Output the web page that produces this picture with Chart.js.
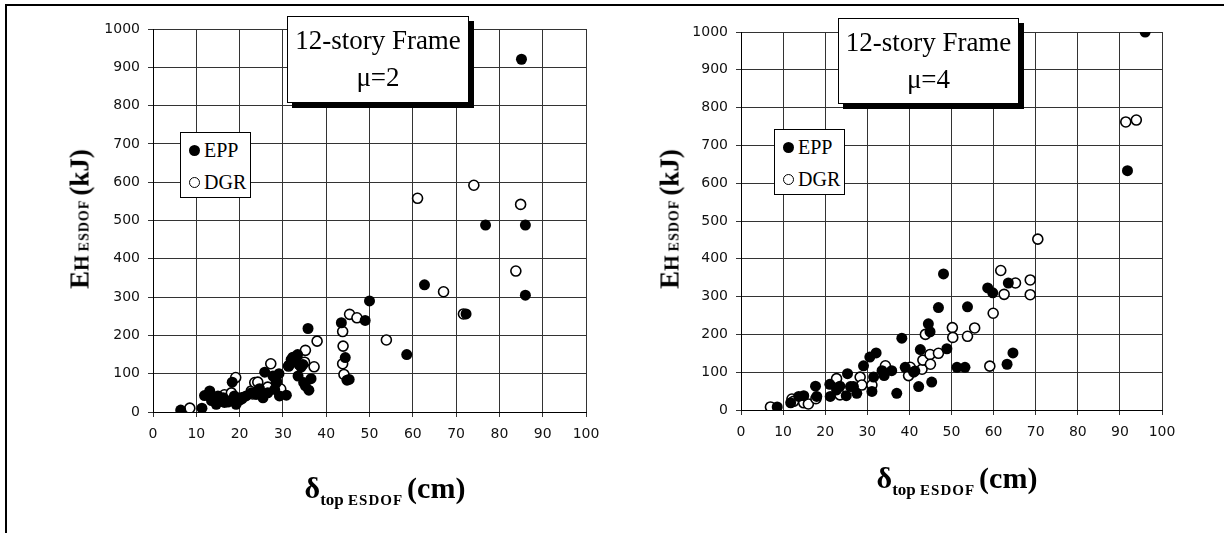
<!DOCTYPE html>
<html lang="en">
<head>
    <meta charset="UTF-8">
    <title>12-story Frame: EH ESDOF vs delta top ESDOF</title>
    <script src="https://cdn.jsdelivr.net/npm/chart.js"></script>
    <style>
        body { margin: 0; background: #fff; }
        #page { position: relative; width: 1224px; height: 533px; overflow: hidden; }
        #frame { position: absolute; left: 5px; top: 4px; width: 1230px; height: 540px;
                 border-top: 2px solid #000; border-left: 2px solid #000; }
        .panel { position: absolute; top: 0; width: 612px; height: 533px; }
        .panel canvas { position: absolute; left: 0; top: 0; }
        .titlebox { position: absolute; background: #fff; border: 1px solid #000;
                    box-shadow: 5px 5px 0 #000; text-align: center;
                    font-family: "Liberation Serif", serif; font-size: 27px; line-height: 37px;
                    color: #000; padding-top: 5px; box-sizing: border-box; white-space: nowrap; }
        .legend { position: absolute; background: #fff; border: 1px solid #000;
                  font-family: "Liberation Serif", serif; font-size: 20px; color: #000; box-sizing: border-box; }
        .legend div { position: absolute; left: 8px; white-space: nowrap; }
        .legend i { display: inline-block; width: 11px; height: 11px; border-radius: 50%;
                    box-sizing: border-box; margin-right: 4px; vertical-align: 1px; }
        .legend i.epp { background: #000; }
        .legend i.dgr { background: #fff; border: 1.6px solid #000; }
        .ytitle, .xtitle { position: absolute; white-space: nowrap; font-family: "Liberation Serif", serif;
                           font-weight: bold; color: #000; transform-origin: center center; }
        .ytitle { transform: translate(-50%, -50%) rotate(-90deg); }
        .xtitle { transform: translate(-50%, -50%); }
        .big { font-size: 27px; }
        .xtitle .big { font-size: 30px; }
        .h { font-size: 20px; }
        .sc { font-size: 14px; letter-spacing: 1px; }
        .sub { font-size: 17px; position: relative; top: 7px; }
        .sub .sc { font-size: 15px; }
    </style>
</head>
<body>
<div id="page">
    <div id="frame"></div>

    <div class="panel" style="left:0">
        <canvas id="chartMu2" width="612" height="533"></canvas>
    </div>
    <div class="panel" style="left:612px">
        <canvas id="chartMu4" width="612" height="533"></canvas>
    </div>

    <!-- left panel texts -->
    <div class="titlebox" style="left:287px; top:16px; width:182px; height:87px;">12-story Frame<br>&mu;=2</div>
    <div class="legend" style="left:180px; top:132px; width:71px; height:66px;">
        <div style="top:6px"><i class="epp"></i>EPP</div>
        <div style="top:38px"><i class="dgr"></i>DGR</div>
    </div>
    <div class="ytitle" style="left:80px; top:219px;"><span class="big">E</span><span class="h">H</span> <span class="sc">ESDOF</span> <span class="big">(kJ)</span></div>
    <div class="xtitle" style="left:385px; top:488px;"><span class="big">&delta;</span><span class="sub">top <span class="sc">ESDOF</span></span> <span class="big">(cm)</span></div>

    <!-- right panel texts -->
    <div class="titlebox" style="left:838px; top:18px; width:181px; height:86px;">12-story Frame<br>&mu;=4</div>
    <div class="legend" style="left:774px; top:129px; width:71px; height:66px;">
        <div style="top:6px"><i class="epp"></i>EPP</div>
        <div style="top:38px"><i class="dgr"></i>DGR</div>
    </div>
    <div class="ytitle" style="left:670px; top:219px;"><span class="big">E</span><span class="h">H</span> <span class="sc">ESDOF</span> <span class="big">(kJ)</span></div>
    <div class="xtitle" style="left:957px; top:478px;"><span class="big">&delta;</span><span class="sub">top <span class="sc">ESDOF</span></span> <span class="big">(cm)</span></div>
</div>

<script>
    // axis ranges
    const xRange = [0, 100];
    const xStep = 10;
    const yRange = [0, 1000];
    const yStep = 100;

    // mu = 2 : [delta top (cm), EH (kJ)]
    const mu2Epp = [
        [6.4, 5], [11.3, 10], [11.9, 43], [13.1, 55], [13.5, 30], [14.6, 20], [15, 42], [16.2, 37],
        [16.5, 25], [17.3, 26], [18, 30], [18.3, 78], [18.8, 42], [19.2, 20], [20, 31], [20.5, 38],
        [21.5, 42], [22.7, 50], [23.8, 46], [24.6, 61], [25.4, 37], [25.8, 104], [26.5, 50], [27.7, 94],
        [28.1, 59], [28.5, 77], [29.1, 100], [29.2, 42], [30.8, 44], [31.4, 122], [31.9, 137], [32.3, 143],
        [33.1, 146], [33.4, 150], [33.5, 94], [33.7, 124], [34.2, 117], [34.6, 124], [34.8, 77], [35.2, 68],
        [35.8, 218], [36, 57], [36.5, 87], [43.5, 233], [44.4, 142], [44.8, 83], [45.3, 85], [49, 239],
        [50, 290], [58.6, 150], [62.7, 332], [72.3, 256], [76.8, 488], [86, 488], [86, 305], [85.1, 921]
    ];
    const mu2Dgr = [
        [8.5, 10], [14, 30], [16.5, 45], [18.1, 50], [19.1, 90], [20.5, 35], [22.7, 55], [23, 47],
        [23.5, 77], [24.2, 78], [26.5, 65], [27.2, 126], [28.5, 80], [29.5, 60], [31.3, 120], [35, 130],
        [35.2, 161], [37.2, 118], [37.9, 185], [43.8, 210], [43.9, 172], [43.8, 126], [44.1, 98], [45.4, 255],
        [47.1, 246], [53.9, 188], [61.1, 558], [67.1, 314], [71.7, 256], [74.1, 592], [83.8, 368], [84.9, 542]
    ];

    // mu = 4
    const mu4Epp = [
        [8.6, 8], [11.8, 19], [13.7, 36], [14.9, 38], [17.7, 63], [18, 36], [21.1, 68], [21.2, 36],
        [22.7, 53], [23.5, 63], [25, 38], [25.3, 96], [26, 62], [26.7, 62], [27.5, 44], [29.1, 117],
        [30.6, 140], [31.1, 49], [31.5, 87], [32.1, 151], [33.5, 104], [34, 91], [35.8, 104], [37, 44],
        [38.2, 190], [39, 113], [41, 100], [41.3, 103], [42.2, 62], [42.6, 160], [44.5, 228], [44.9, 207],
        [45.3, 74], [46.9, 271], [48.1, 360], [48.9, 162], [51.3, 113], [53.2, 113], [53.8, 273], [58.6, 323],
        [59.8, 310], [63.5, 336], [63.2, 121], [64.6, 151], [91.8, 633], [96, 1000]
    ];
    const mu4Dgr = [
        [7, 8], [12.1, 29], [12.5, 23], [14.9, 19], [16, 16], [17.8, 30], [22.7, 83], [23.5, 40],
        [28.3, 87], [28.7, 66], [31.1, 66], [34.3, 117], [39.8, 91], [40.2, 113], [43, 108], [43.2, 132],
        [43.8, 200], [44.9, 147], [45, 121], [46.9, 150], [50.2, 218], [50.3, 192], [53.8, 195], [55.5, 217],
        [59.1, 116], [59.9, 256], [61.7, 369], [62.5, 306], [65.2, 336], [68.7, 344], [68.7, 305], [70.5, 452],
        [91.4, 762], [93.9, 767]
    ];

    const toPoints = arr => arr.map(p => ({ x: p[0], y: p[1] }));
    const tickFont = { family: 'DejaVu Sans', size: 14 };
    const plainNum = v => String(v);   // no thousands separator ("1000")

    function makeChart(id, epp, dgr, box) {
        const ctx = document.getElementById(id).getContext('2d');
        return new Chart(ctx, {
            type: 'scatter',
            data: {
                datasets: [
                    {
                        label: 'EPP',
                        data: toPoints(epp),
                        pointRadius: 5.5,
                        pointBackgroundColor: '#000',
                        pointBorderColor: '#000',
                        pointBorderWidth: 0
                    },
                    {
                        label: 'DGR',
                        data: toPoints(dgr),
                        pointRadius: 5,
                        pointBackgroundColor: '#fff',
                        pointBorderColor: '#000',
                        pointBorderWidth: 1.6
                    }
                ]
            },
            options: {
                responsive: false,
                animation: false,
                devicePixelRatio: 1,
                layout: { padding: { left: 0, top: box.top, right: box.right, bottom: 0 } },
                plugins: { legend: { display: false }, tooltip: { enabled: false } },
                scales: {
                    x: {
                        type: 'linear',
                        min: xRange[0], max: xRange[1],
                        ticks: { stepSize: xStep, font: tickFont, color: '#111', padding: 9, maxRotation: 0, callback: plainNum },
                        grid: { color: '#333', lineWidth: 1, tickLength: 5 },
                        border: { color: '#000', width: 1 },
                        afterFit: s => { s.height = box.bottomH; }
                    },
                    y: {
                        type: 'linear',
                        min: yRange[0], max: yRange[1],
                        ticks: { stepSize: yStep, font: tickFont, color: '#111', padding: 8, callback: plainNum },
                        grid: { color: '#333', lineWidth: 1, tickLength: 5 },
                        border: { color: '#000', width: 1 },
                        afterFit: s => { s.width = box.leftW; }
                    }
                }
            }
        });
    }

    makeChart('chartMu2', mu2Epp, mu2Dgr, { leftW: 153, top: 29, right: 26, bottomH: 121 });
    makeChart('chartMu4', mu4Epp, mu4Dgr, { leftW: 129, top: 32, right: 62, bottomH: 123 });
</script>
</body>
</html>
